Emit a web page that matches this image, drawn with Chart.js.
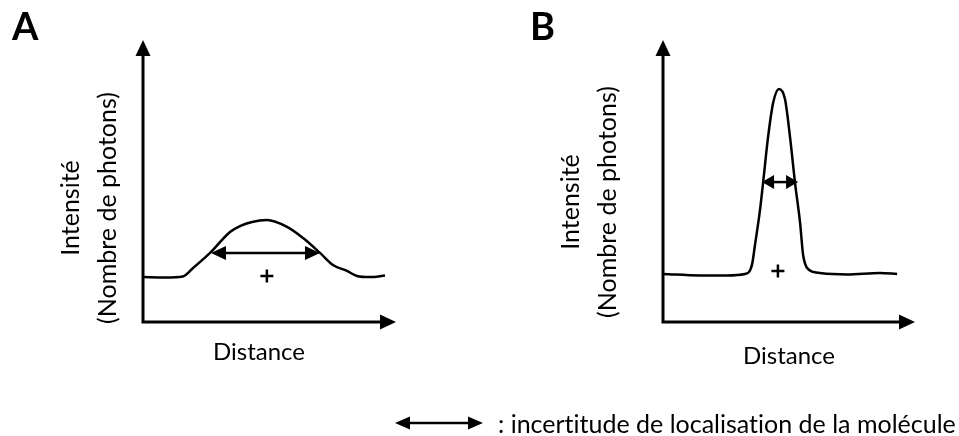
<!DOCTYPE html>
<html lang="fr">
<head>
<meta charset="utf-8">
<title>Intensité en fonction de la distance</title>
<script src="https://cdn.jsdelivr.net/npm/chart.js@4.4.1/dist/chart.umd.min.js"></script>
<style>
  html, body { margin: 0; padding: 0; background: #fff; }
  body { width: 959px; height: 436px; position: relative; overflow: hidden; font-family: Lato, sans-serif; color: #000; font-variant-ligatures: none; }
  canvas { position: absolute; top: 0; }
  #chartA { left: 0; }
  #chartB { left: 480px; }
  .lettre { position: absolute; top: 6px; font-weight: 700; font-size: 38px; line-height: 1; }
  #legende { position: absolute; left: 395px; top: 408px; height: 30px; display: flex; align-items: center; font-size: 25px; white-space: nowrap; }
  #legende span { margin-left: 15px; }
</style>
</head>
<body>
<canvas id="chartA" width="480" height="436"></canvas>
<canvas id="chartB" width="479" height="436"></canvas>
<div class="lettre" style="left:12px">A</div>
<div class="lettre" style="left:530px">B</div>
<div id="legende">
  <svg width="88" height="16" viewBox="0 0 88 16">
    <line x1="12" y1="8" x2="76" y2="8" stroke="#000" stroke-width="2.5"/>
    <polygon points="0,8 15,1.5 15,14.5" fill="#000"/>
    <polygon points="88,8 73,1.5 73,14.5" fill="#000"/>
  </svg>
  <span>: incertitude de localisation de la molécule</span>
</div>

<script>
// Panneau A : pic large
const distanceA  = [0, 9.5, 17.2, 21.6, 28.9, 37.5, 41.8, 47.0, 53.4, 62.1, 69.0, 76.3, 81.9, 87.9, 92.2, 97.8, 104.3];
const intensiteA = [19.7, 19.5, 20.0, 23.7, 30.3, 39.5, 42.1, 43.9, 44.7, 41.7, 36.8, 30.3, 25.0, 22.4, 20.2, 19.7, 20.4];
const incertitudeA = [29.3, 76.3];   // début / fin de la flèche
const niveauFlecheA = 30.3;
const centreA = [53.4, 20.2];

// Panneau B : pic étroit
const distanceB  = [0, 14.7, 25.4, 32.5, 35.3, 36.5, 38.5, 39.7, 41.7, 43.7, 46.0, 48.4, 50.4, 52.4, 54.4, 55.6, 57.5, 62.3, 73.0, 86.1, 92.9];
const intensiteB = [20.0, 19.4, 19.4, 20.0, 23.8, 32.1, 46.7, 57.9, 77.1, 91.3, 97.1, 92.9, 77.1, 57.9, 41.3, 27.9, 22.1, 20.4, 19.8, 20.4, 20.0];
const incertitudeB = [39.3, 53.6];
const niveauFlecheB = 58.3;
const centreB = [45.6, 21.3];

const titreX = 'Distance';
const titreY = ['Intensité', '(Nombre de photons)'];

Chart.defaults.font.family = 'Lato';
Chart.defaults.color = '#000';

// pointe de flèche pleine, dir = direction de la pointe
function pointe(ctx, x, y, dir, longueur, demi) {
    ctx.beginPath();
    ctx.moveTo(x, y);
    if (dir === 'droite') { ctx.lineTo(x - longueur, y - demi); ctx.lineTo(x - longueur, y + demi); }
    if (dir === 'gauche') { ctx.lineTo(x + longueur, y - demi); ctx.lineTo(x + longueur, y + demi); }
    if (dir === 'haut')   { ctx.lineTo(x - demi, y + longueur); ctx.lineTo(x + demi, y + longueur); }
    ctx.closePath();
    ctx.fill();
}

// axes fléchés dessinés à partir de la zone du graphique
const axesFleches = {
    id: 'axesFleches',
    beforeDatasetsDraw(chart, args, opts) {
        const { ctx, chartArea } = chart;
        const x0 = chart.scales.x.getPixelForValue(0);
        const y0 = chart.scales.y.getPixelForValue(0);
        const pointeX = chartArea.right + opts.depassementX;
        const pointeY = chartArea.top - opts.depassementY;
        ctx.save();
        ctx.strokeStyle = '#000';
        ctx.fillStyle = '#000';
        ctx.lineWidth = 3;
        ctx.beginPath();
        ctx.moveTo(x0, y0);
        ctx.lineTo(x0, pointeY + 10);
        ctx.moveTo(x0 - 1.5, y0);
        ctx.lineTo(pointeX - 10, y0);
        ctx.stroke();
        pointe(ctx, x0, pointeY, 'haut', 16, 7.5);
        pointe(ctx, pointeX, y0, 'droite', 16, 7.5);
        ctx.restore();
    }
};

// double flèche de l'incertitude de localisation
const flecheIncertitude = {
    id: 'flecheIncertitude',
    afterDatasetsDraw(chart, args, opts) {
        const { ctx } = chart;
        const xa = chart.scales.x.getPixelForValue(opts.debut);
        const xb = chart.scales.x.getPixelForValue(opts.fin);
        const y = chart.scales.y.getPixelForValue(opts.niveau);
        ctx.save();
        ctx.strokeStyle = '#000';
        ctx.fillStyle = '#000';
        ctx.lineWidth = 2.5;
        ctx.beginPath();
        ctx.moveTo(xa + opts.longueur - 1, y);
        ctx.lineTo(xb - opts.longueur + 1, y);
        ctx.stroke();
        pointe(ctx, xa, y, 'gauche', opts.longueur, 7);
        pointe(ctx, xb, y, 'droite', opts.longueur, 7);
        ctx.restore();
    }
};

function creerPanneau(id, distances, intensites, incertitude, niveau, centre, geo) {
    const ctx = document.getElementById(id).getContext('2d');
    return new Chart(ctx, {
        type: 'scatter',
        data: {
            datasets: [{
                data: distances.map((x, i) => ({ x: x, y: intensites[i] })),
                showLine: true,
                borderColor: '#000',
                borderWidth: 2.5,
                pointRadius: 0,
                cubicInterpolationMode: 'monotone',
                clip: false
            }, {
                data: [{ x: centre[0], y: centre[1] }],
                pointStyle: 'cross',
                pointRadius: 6.5,
                borderColor: '#000',
                borderWidth: 2.5,
                clip: false
            }]
        },
        options: {
            responsive: false,
            animation: false,
            layout: { padding: geo.padding },
            plugins: {
                legend: { display: false },
                tooltip: { enabled: false },
                axesFleches: { depassementX: geo.depassementX, depassementY: geo.depassementY },
                flecheIncertitude: { debut: incertitude[0], fin: incertitude[1], niveau: niveau, longueur: geo.tete }
            },
            scales: {
                x: {
                    type: 'linear', min: 0, max: 100,
                    grid: { display: false }, border: { display: false }, ticks: { display: false },
                    title: { display: true, text: titreX, padding: 0, font: { size: 24, lineHeight: 1.2 } },
                    afterFit(scale) { scale.height = geo.hauteurX; }
                },
                y: {
                    type: 'linear', min: 0, max: 100,
                    grid: { display: false }, border: { display: false }, ticks: { display: false },
                    title: { display: true, text: titreY, padding: 0, font: { size: 25, lineHeight: 37 / 25 } },
                    afterFit(scale) { scale.width = geo.largeurY; }
                }
            }
        },
        plugins: [axesFleches, flecheIncertitude]
    });
}

creerPanneau('chartA', distanceA, intensiteA, incertitudeA, niveauFlecheA, centreA, {
    padding: { left: 52, top: 94, right: 105, bottom: 69.6 },
    largeurY: 91, hauteurX: 44.4,
    depassementX: 21, depassementY: 54, tete: 15
});

creerPanneau('chartB', distanceB, intensiteB, incertitudeB, niveauFlecheB, centreB, {
    padding: { left: 72.5, top: 82, right: 44, bottom: 65.1 },
    largeurY: 110.5, hauteurX: 48.9,
    depassementX: 0, depassementY: 42, tete: 12
});
</script>
</body>
</html>
